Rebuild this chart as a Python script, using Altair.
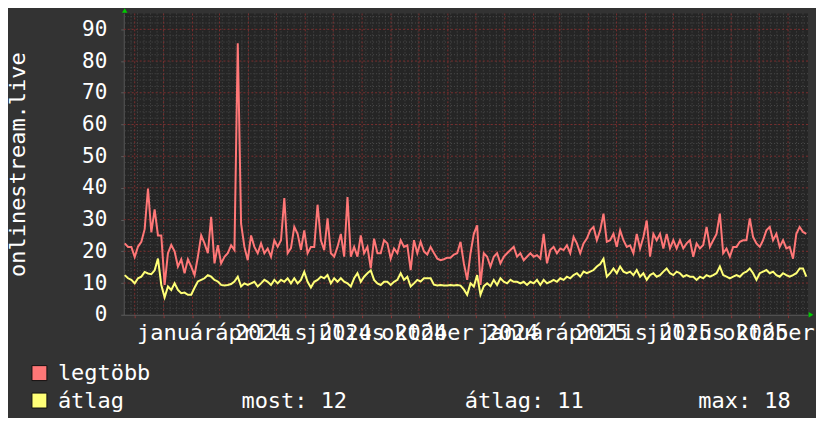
import altair as alt
import pandas as pd

# ---- data ----
legtobb = [
    22.5, 21.4, 21.4, 18.2, 21.5, 23, 27, 39.8, 26, 33.2,
    25, 25, 9.4, 19.4, 22, 20, 15.2, 17.5, 13.1, 17.5,
    15.2, 12.5, 18.3, 25, 22.5, 19.4, 30.9, 16.2, 21.9, 16.2,
    18.3, 19.4, 21.9, 20.4, 85.6, 28.7, 21.4, 17.2, 25, 21.4,
    19.4, 22.5, 19.4, 20.9, 18.3, 23.5, 21.4, 23.5, 36.8, 19.4,
    21, 27.7, 25.5, 20.5, 26.6, 19.4, 21.4, 21.4, 34.7, 23.5,
    20.4, 30.4, 19.4, 18.3, 21.4, 25.5, 18.3, 37.1, 18.3, 21.4,
    18.3, 25, 19.4, 21.4, 14.6, 24, 19.4, 19.4, 23.5, 22.5,
    17.7, 20.9, 19.4, 23.5, 21.4, 21.9, 14.1, 23.5, 19.4, 23,
    20, 19, 21.4, 19.5, 17.7, 17.2, 17.5, 18, 18, 19,
    19.4, 23, 16.2, 11, 19.4, 25.5, 28.2, 9.4, 19.4, 18.3,
    15.2, 18.3, 19.4, 16.2, 18.3, 19.4, 20.4, 21.4, 18.3, 19.4,
    17.2, 18.3, 19.4, 18.3, 18.8, 17.7, 25.5, 16.2, 20.4, 21.4,
    19.4, 20.9, 20.4, 21.9, 19.4, 24.5, 22.5, 19.4, 22.5, 24,
    26.6, 27.7, 23.5, 26.6, 31.9, 23, 23.5, 25.5, 21.4, 26.6,
    23.5, 21.4, 21.9, 19.4, 25.5, 20.9, 24.5, 29.7, 18.3, 25.5,
    23.5, 25.5, 20.9, 25.5, 20.9, 23.5, 20.9, 23.5, 20.9, 22.5,
    23.5, 18.3, 22.5, 20.9, 22, 27.7, 21.4, 23.5, 25.5, 31.9,
    19.4, 20.9, 18.3, 21.4, 21.4, 23, 23.5, 23.5, 30.4, 24.5,
    22.5, 21.4, 23.5, 26.6, 27.7, 23.5, 25.5, 21.4, 23.5, 20.9,
    21.4, 17.7, 25.5, 27.7, 26.1, 25.5,
]
atlag = [
    12.5, 11.5, 11, 9.9, 11.5, 12, 13.5, 13, 12.8, 14,
    17.7, 9.4, 5.5, 8.9, 7.8, 9.9, 7.8, 6.8, 7, 6.3,
    6.3, 8.5, 10.5, 11, 11.5, 12.5, 12, 11, 10.5, 9.4,
    9.2, 9.4, 9.7, 10.5, 12, 8.9, 9.9, 9.4, 9.9, 10.4,
    8.9, 9.9, 11, 10.4, 9.4, 11, 9.9, 11, 10.4, 11.5,
    9.9, 11.5, 9.9, 11, 13.5, 10.4, 8.6, 10.4, 11, 12,
    11.5, 12.5, 9.9, 11.5, 10.4, 11.5, 10.4, 9.9, 8.9, 11.5,
    13.1, 10.4, 12, 13.1, 14, 11, 9.9, 9.4, 10.4, 10.4,
    9.4, 10.4, 11, 13.1, 11, 12, 8.9, 9.9, 11, 10.5,
    11.5, 11.5, 11.5, 9.5, 9.2, 9.4, 9.2, 9.2, 9.4, 9.2,
    9.4, 9.2, 8, 6.3, 9.9, 8.9, 12.5, 6.3, 9, 9.9,
    9, 11, 9.4, 11.5, 10.4, 9.9, 11, 10.4, 10.4, 9.9,
    10.4, 9.4, 10.4, 9.9, 11, 9.4, 11, 9.9, 10.4, 11,
    10.4, 11.5, 11, 12, 11.5, 12.5, 13.1, 12, 13.6, 13.1,
    13.6, 14.1, 15.2, 16, 17.7, 12, 13.1, 14.6, 13.1, 15.2,
    13.6, 13.1, 13.6, 12.5, 14.1, 12, 13.1, 11, 12.5, 13.1,
    12, 12.5, 13.6, 14.6, 13.1, 12.5, 13.6, 13.1, 12, 12.5,
    12, 12, 11, 12, 11.5, 12.5, 12, 12.5, 13.1, 15.2,
    12.5, 12, 11.5, 12, 12.5, 12, 13.1, 13.6, 14.6, 13.1,
    11, 13.1, 13.6, 14.1, 13.1, 13.6, 12.5, 12, 13.1, 12.5,
    12, 12.5, 13.1, 14.6, 14.6, 12,
]
series_names = ["legtöbb", "átlag"]
series_colors = ["#ff7777", "#ffff77"]
first_time = "2023-11-20 07:00"
last_time = "2025-11-20 14:00"

y_ticks = [0, 10, 20, 30, 40, 50, 60, 70, 80, 90]
y_title = "onlinestream.live"

month_labels = ["január", "április", "július", "október",
                "január", "április", "július", "október"]
month_label_dates = ["2024-01-15", "2024-04-15", "2024-07-14", "2024-10-10",
                     "2025-01-14", "2025-04-15", "2025-07-14", "2025-10-11"]
year_labels = ["2024", "2024", "2024", "2024", "2025", "2025", "2025"]
year_label_dates = ["2024-04-15", "2024-07-14", "2024-10-03", "2025-01-09",
                    "2025-04-15", "2025-07-14", "2025-10-04"]
stat_labels = ["most: 12", "átlag: 11", "max: 18"]

# ---- tables ----
times = pd.date_range(first_time, last_time, periods=len(legtobb))
lines_df = pd.concat([
    pd.DataFrame({"date": times, "value": legtobb, "series": series_names[0]}),
    pd.DataFrame({"date": times, "value": atlag, "series": series_names[1]}),
])
month_df = pd.DataFrame({"date": pd.to_datetime(month_label_dates), "label": month_labels})
year_df = pd.DataFrame({"date": pd.to_datetime(year_label_dates), "label": year_labels})

months = pd.date_range("2023-12-01", "2025-11-01", freq="MS")
weeks = pd.date_range("2023-11-20", "2025-11-17", freq="7D")
vmajor_df = pd.DataFrame({"date": months})
vminor_df = pd.DataFrame({"date": weeks})
hmajor_df = pd.DataFrame({"value": [v for v in range(10, 95, 10)]})
hminor_df = pd.DataFrame({"value": [v for v in range(2, 95, 2) if v % 10]})
one = pd.DataFrame({"k": [0]})

FONT = "DejaVu Sans Mono"
MAJOR = "#7a2e2e"
MINOR = "#4b4b4b"

x_scale = alt.Scale(domain=[alt.DateTime(year=2023, month=11, date=19, hours=5),
                            alt.DateTime(year=2025, month=11, date=22, hours=10)])
x_axis = alt.Axis(labels=False, title=None, grid=False, domainColor="#5c5c5c",
                  tickColor="#8a3434", tickSize=3,
                  values=[alt.DateTime(year=d.year, month=d.month, date=1) for d in months])
y_scale = alt.Scale(domain=[0, 95], nice=False, zero=True)
y_axis = alt.Axis(values=y_ticks, grid=False, title=y_title,
                  labelFont=FONT, labelFontSize=21, labelColor="#ffffff",
                  labelPadding=14, tickSize=3, tickColor="#5c5c5c", domainColor="#5c5c5c",
                  titleFont=FONT, titleFontSize=22, titleColor="#ffffff",
                  titleFontWeight="normal", titleAngle=270, titleX=-99, titleY=151,
                  titleBaseline="alphabetic", titleAlign="center")


def X():
    return alt.X("date:T", scale=x_scale, axis=x_axis)


def Y():
    return alt.Y("value:Q", scale=y_scale, axis=y_axis)


vminor = alt.Chart(vminor_df).mark_rule(color=MINOR, strokeDash=[1, 2], strokeWidth=1).encode(x=X())
hminor = alt.Chart(hminor_df).mark_rule(color=MINOR, strokeDash=[1, 2], strokeWidth=1).encode(y=Y())
vmajor = alt.Chart(vmajor_df).mark_rule(color=MAJOR, strokeDash=[2, 2], strokeWidth=1).encode(x=X())
hmajor = alt.Chart(hmajor_df).mark_rule(color=MAJOR, strokeDash=[2, 2], strokeWidth=1).encode(y=Y())

lines = alt.Chart(lines_df).mark_line(strokeWidth=2).encode(
    x=X(), y=Y(),
    color=alt.Color("series:N", scale=alt.Scale(domain=series_names, range=series_colors), legend=None),
)

text_style = dict(font=FONT, fontSize=22, color="#ffffff")
month_text = alt.Chart(month_df).mark_text(align="center", baseline="alphabetic", **text_style).encode(
    x=X(), y=alt.value(327), text="label:N")
year_text = alt.Chart(year_df).mark_text(align="center", baseline="alphabetic", **text_style).encode(
    x=X(), y=alt.value(327), text="label:N")

leg_sq1 = alt.Chart(one).mark_square(size=225, filled=True, color=series_colors[0],
                                     stroke="#111111", strokeWidth=1, opacity=1).encode(
    x=alt.value(-84.5), y=alt.value(360.5))
leg_sq2 = alt.Chart(one).mark_square(size=225, filled=True, color=series_colors[1],
                                     stroke="#111111", strokeWidth=1, opacity=1).encode(
    x=alt.value(-84.5), y=alt.value(388))
leg_t1 = alt.Chart(one).mark_text(align="left", baseline="middle", text=series_names[0], **text_style).encode(
    x=alt.value(-66), y=alt.value(360.5))
leg_t2 = alt.Chart(one).mark_text(align="left", baseline="middle", text=series_names[1], **text_style).encode(
    x=alt.value(-66), y=alt.value(388))
stat1 = alt.Chart(one).mark_text(align="left", baseline="middle", text=stat_labels[0], **text_style).encode(
    x=alt.value(118), y=alt.value(388))
stat2 = alt.Chart(one).mark_text(align="left", baseline="middle", text=stat_labels[1], **text_style).encode(
    x=alt.value(342), y=alt.value(388))
stat3 = alt.Chart(one).mark_text(align="left", baseline="middle", text=stat_labels[2], **text_style).encode(
    x=alt.value(576), y=alt.value(388))

arrow_up = alt.Chart(one).mark_point(shape="triangle-up", filled=True, size=30,
                                     color="#00cc00", opacity=1).encode(
    x=alt.value(1), y=alt.value(-3))
arrow_right = alt.Chart(one).mark_point(shape="triangle-right", filled=True, size=30,
                                        color="#00cc00", opacity=1).encode(
    x=alt.value(689), y=alt.value(302))

chart = alt.layer(
    vminor, hminor, vmajor, hmajor, lines, month_text, year_text,
    leg_sq1, leg_sq2, leg_t1, leg_t2, stat1, stat2, stat3, arrow_up, arrow_right,
).properties(
    width=686, height=302,
    padding={"left": 116, "top": 5, "right": 8, "bottom": 103},
    autosize=alt.AutoSizeParams(type="none"),
).configure(background="#333333").configure_view(fill="#252525", stroke=None)

chart.save("out.html", embed_options={"renderer": "svg", "actions": False})
